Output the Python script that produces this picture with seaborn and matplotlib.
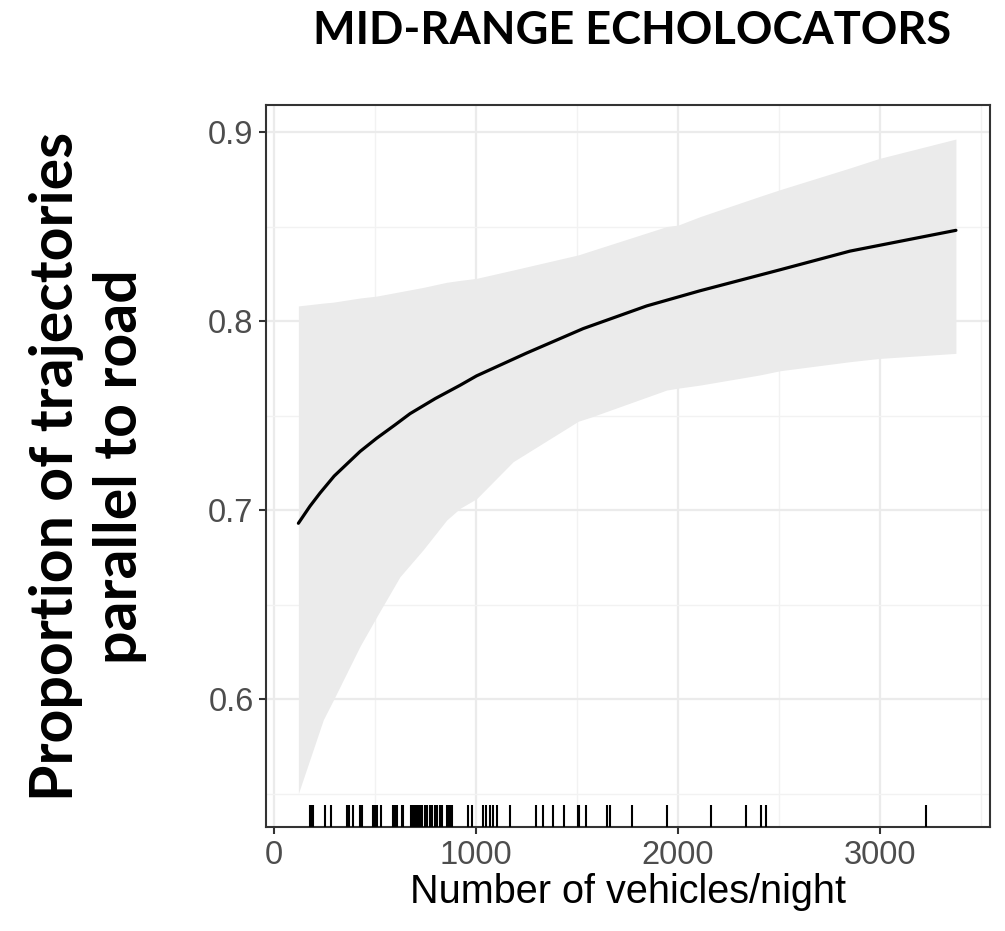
import numpy as np
import pandas as pd
import matplotlib
matplotlib.use("Agg")
import matplotlib.pyplot as plt
import seaborn as sns

# Fitted proportion of trajectories parallel to the road vs. traffic volume
fit_x = [123, 180, 230, 300, 428, 510, 600, 675, 800, 922, 1004, 1250, 1531,
         1845, 2108, 2500, 2850, 3374]
fit_y = [0.693, 0.702, 0.709, 0.718, 0.731, 0.738, 0.745, 0.751, 0.759, 0.766,
         0.771, 0.783, 0.796, 0.808, 0.816, 0.827, 0.837, 0.848]

# 95% confidence band
band_x = [123, 246, 296, 428, 510, 625, 740, 856, 922, 1004, 1185, 1507, 1565,
          1944, 2001, 2108, 2405, 2504, 2850, 2994, 3374]
band_lo = [0.550, 0.589, 0.5995, 0.628, 0.6435, 0.6647, 0.679, 0.6947, 0.7009,
           0.706, 0.7256, 0.747, 0.749, 0.7635, 0.7645, 0.7661, 0.7715, 0.7737,
           0.7785, 0.7802, 0.7829]
band_hi = [0.808, 0.8095, 0.810, 0.8122, 0.8132, 0.8155, 0.8178, 0.8205, 0.8215,
           0.8226, 0.8270, 0.835, 0.837, 0.8500, 0.8508, 0.8552, 0.8660, 0.8695,
           0.8810, 0.8860, 0.8963]

# Observed traffic counts (rug)
vehicles = [180, 190, 197, 256, 284, 365, 375, 391, 428, 438, 490, 500, 513, 530,
            592, 600, 609, 634, 642, 678, 684, 691, 698, 708, 716, 724, 736, 749,
            761, 774, 785, 799, 810, 823, 834, 856, 864, 872, 884, 963, 980, 1034,
            1050, 1070, 1087, 1106, 1169, 1296, 1334, 1380, 1437, 1503, 1510, 1545,
            1647, 1664, 1771, 1944, 2161, 2334, 2408, 2434, 3228]

x_ticks = [0, 1000, 2000, 3000]
y_ticks = [0.6, 0.7, 0.8, 0.9]

sns.set_theme(style="white")
plt.rcParams["font.family"] = ["Liberation Sans", "DejaVu Sans"]

fig = plt.figure(figsize=(10.05, 9.31), dpi=100)
ax = fig.add_axes([0.2647, 0.1117, 0.7203, 0.7755])

fit = pd.DataFrame({"vehicles": fit_x, "prop": fit_y})
band = pd.DataFrame({"vehicles": band_x, "lo": band_lo, "hi": band_hi})
obs = pd.DataFrame({"vehicles": vehicles})

ax.fill_between(band["vehicles"], band["lo"], band["hi"], color="#EBEBEB",
                linewidth=0, zorder=2)
sns.lineplot(data=fit, x="vehicles", y="prop", color="black", linewidth=2.3,
             ax=ax, zorder=3)
sns.rugplot(data=obs, x="vehicles", height=0.03, color="black", linewidth=1.5,
            ax=ax, zorder=3)

ax.set_xlim(-37, 3542)
ax.set_ylim(0.5323, 0.9143)
ax.set_xticks(x_ticks)
ax.set_yticks(y_ticks)
ax.set_xticks([500, 1500, 2500, 3500], minor=True)
ax.set_yticks([0.55, 0.65, 0.75, 0.85], minor=True)
ax.set_xticklabels([str(v) for v in x_ticks])
ax.set_yticklabels([f"{v:.1f}" for v in y_ticks])

ax.grid(True, which="major", color="#EBEBEB", linewidth=1.6, zorder=0)
ax.grid(True, which="minor", color="#F2F2F2", linewidth=1.0, zorder=0)
ax.set_axisbelow(True)

for s in ax.spines.values():
    s.set_color("#333333")
    s.set_linewidth(1.5)

ax.tick_params(axis="both", which="major", length=5, width=1.5, color="#333333",
               labelsize=23.5, labelcolor="#4D4D4D", pad=4, bottom=True, left=True)
ax.tick_params(axis="both", which="minor", length=0)

ax.set_xlabel("Number of vehicles/night", fontsize=28.5, color="black", labelpad=2)
ax.set_ylabel("")

fig.text(0.629, 0.967, "MID-RANGE ECHOLOCATORS", ha="center", va="center",
         fontsize=32.5, fontweight="bold", color="black",
         family=["Lato", "DejaVu Sans"])
fig.text(0.0876, 0.499, "Proportion of trajectories\nparallel to road", ha="center",
         va="center", rotation=90, fontsize=42.5, fontweight="bold", color="black",
         family=["Lato", "DejaVu Sans"], linespacing=1.22)

fig.savefig("out.png", dpi=100)
